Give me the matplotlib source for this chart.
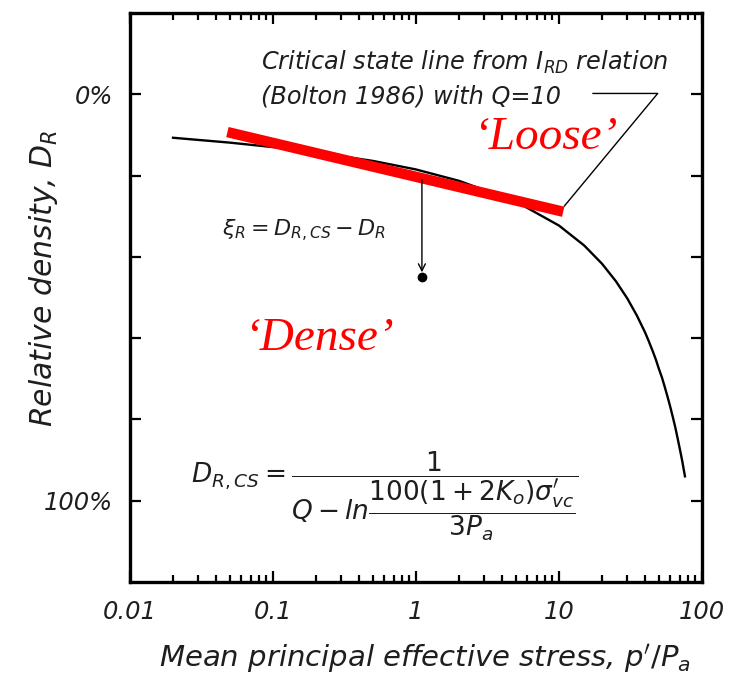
import numpy as np
import matplotlib.pyplot as plt
import matplotlib.ticker as mticker

plt.rcParams['font.family'] = ['DejaVu Sans']
plt.rcParams['mathtext.fontset'] = 'dejavusans'

# critical state line, relative density (%) vs p'/Pa
p_ratio = [0.02, 0.05, 0.1, 0.2, 0.5, 1, 2, 5, 10, 15, 20, 25, 30, 35,
           40, 42.5, 45, 47.5, 50, 52.5, 55, 57.5, 60, 62.5, 65, 67.5,
           70, 71.5, 73, 74.5, 76]
dr_cs = [10.7, 11.9, 13.0, 14.3, 16.4, 18.5, 21.3, 26.4, 32.3, 37.2, 41.7,
         46.0, 50.2, 54.4, 58.6, 60.8, 63.0, 65.2, 67.6, 69.7, 72.1, 74.5,
         76.9, 79.4, 81.9, 84.6, 87.3, 88.9, 90.5, 92.3, 94.0]

# straight red line drawn over the curve
red_x = [0.048, 10.7]
red_y = [9.3, 28.9]

# leader from the label to the curve
leader_x = [17.3, 49.0, 10.9]
leader_y = [-0.2, -0.2, 27.5]

# example state below the line
state_x = 1.1
state_top = 21.0
state_dr = 45.0

xticks = [0.01, 0.1, 1, 10, 100]
xticklabels = ['0.01', '0.1', '1', '10', '100']
yticks = [0, 20, 40, 60, 80, 100]
yticklabels = ['0%', '', '', '', '', '100%']

ink = '#1e1e1e'

fig = plt.figure(figsize=(7.34, 6.79), dpi=100)
ax = fig.add_axes([0.1771, 0.1428, 0.7793, 0.8381])

ax.plot(p_ratio, dr_cs, color='black', lw=1.7, zorder=2)
ax.plot(red_x, red_y, color='#ff0000', lw=7.5, solid_capstyle='butt', zorder=3)
ax.plot(leader_x, leader_y, color='black', lw=1.0, zorder=2)

ax.annotate('', xy=(state_x, state_dr - 1.2), xytext=(state_x, state_top),
            arrowprops=dict(arrowstyle='->,head_length=0.5,head_width=0.25',
                            color='black', lw=1.0, shrinkA=0, shrinkB=0))
ax.plot([state_x], [state_dr], 'o', color='black', ms=6)

ax.set_xscale('log')
ax.set_xlim(0.01, 100)
ax.set_ylim(120, -20)

ax.set_xticks(xticks)
ax.set_xticklabels(xticklabels)
ax.xaxis.set_minor_locator(mticker.LogLocator(base=10, subs=np.arange(2, 10), numticks=50))
ax.xaxis.set_minor_formatter(mticker.NullFormatter())
ax.set_yticks(yticks)
ax.set_yticklabels(yticklabels)
ax.yaxis.set_minor_locator(mticker.NullLocator())

for lab in ax.get_xticklabels() + ax.get_yticklabels():
    lab.set_fontstyle('italic')
    lab.set_fontsize(17.5)
    lab.set_color(ink)

ax.tick_params(which='both', direction='in', top=True, right=True, width=1.6)
ax.tick_params(which='major', length=8)
ax.tick_params(which='minor', length=5)
ax.tick_params(axis='x', pad=13)
ax.tick_params(axis='y', pad=12)
for s in ax.spines.values():
    s.set_linewidth(2.4)

ax.set_xlabel("Mean principal effective stress, $p'/P_a$", fontsize=21,
              fontstyle='italic', color=ink)
ax.xaxis.set_label_coords(0.515, -0.106)
ax.set_ylabel('Relative density, $D_R$', fontsize=21.5, fontstyle='italic',
              color=ink)
ax.yaxis.set_label_coords(-0.122, 0.534)

ax.text(0.0824, -6.1, 'Critical state line from $I_{RD}$ relation',
        fontsize=17.3, fontstyle='italic', color=ink, va='baseline')
ax.text(0.0824, 2.2, '(Bolton 1986) with Q=10',
        fontsize=17.3, fontstyle='italic', color=ink, va='baseline')

ax.text(8.0, 13.5, '\u2018Loose\u2019', fontsize=34, color='#ff0000',
        family='Liberation Serif', fontstyle='italic', ha='center', va='baseline')
ax.text(0.21, 62.8, '\u2018Dense\u2019', fontsize=34, color='#ff0000',
        family='Liberation Serif', fontstyle='italic', ha='center', va='baseline')

ax.text(0.044, 35.0, r'$\xi_R = D_{R,CS} - D_R$', fontsize=16, color=ink,
        va='baseline')

ax.text(0.607, 98.8,
        r"$D_{R,CS}=\dfrac{1}{Q-ln\dfrac{100\left(1+2K_o\right)\sigma^{\prime}_{vc}}{3P_a}}$",
        fontsize=19, color=ink, ha='center', va='center')

fig.savefig('out.png', dpi=100)
